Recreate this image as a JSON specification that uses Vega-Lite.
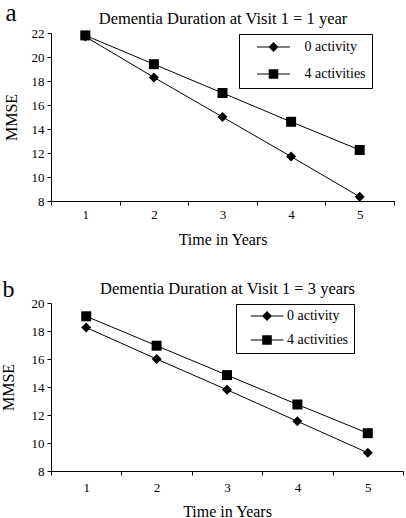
{
  "$schema": "https://vega.github.io/schema/vega-lite/v6.json",
  "padding": {"left": 0, "top": 0, "right": 0, "bottom": 0},
  "background": "white",
  "datasets": {
    "a": [
      {"time": 1, "series": "0 activity", "mmse": 21.7},
      {"time": 2, "series": "0 activity", "mmse": 18.3},
      {"time": 3, "series": "0 activity", "mmse": 15.0},
      {"time": 4, "series": "0 activity", "mmse": 11.7},
      {"time": 5, "series": "0 activity", "mmse": 8.35},
      {"time": 1, "series": "4 activities", "mmse": 21.8},
      {"time": 2, "series": "4 activities", "mmse": 19.4},
      {"time": 3, "series": "4 activities", "mmse": 17.0},
      {"time": 4, "series": "4 activities", "mmse": 14.6},
      {"time": 5, "series": "4 activities", "mmse": 12.25}
    ],
    "b": [
      {"time": 1, "series": "0 activity", "mmse": 18.25},
      {"time": 2, "series": "0 activity", "mmse": 16.0},
      {"time": 3, "series": "0 activity", "mmse": 13.8},
      {"time": 4, "series": "0 activity", "mmse": 11.55},
      {"time": 5, "series": "0 activity", "mmse": 9.3},
      {"time": 1, "series": "4 activities", "mmse": 19.05},
      {"time": 2, "series": "4 activities", "mmse": 16.95},
      {"time": 3, "series": "4 activities", "mmse": 14.85},
      {"time": 4, "series": "4 activities", "mmse": 12.75},
      {"time": 5, "series": "4 activities", "mmse": 10.7}
    ]
  },
  "spacing": 30,
  "vconcat": [
    {
      "width": 343,
      "height": 168,
      "data": {"name": "a"},
      "layer": [
        {
          "mark": {"type": "line", "color": "black", "strokeWidth": 1},
          "encoding": {
            "x": {"field": "time", "type": "quantitative", "scale": {"domain": [0.5, 5.5], "nice": false, "zero": false},
              "axis": {"orient": "bottom", "title": "Time in Years", "values": [0.5, 1, 1.5, 2, 2.5, 3, 3.5, 4, 4.5, 5, 5.5],
                "labelExpr": "datum.value % 1 === 0 ? '' + datum.value : ''",
                "tickOpacity": {"condition": {"test": "datum.value % 1 === 0", "value": 0}, "value": 1},
                "titlePadding": 10}},
            "y": {"field": "mmse", "type": "quantitative", "scale": {"domain": [8, 22], "nice": false, "zero": false},
              "axis": {"orient": "left", "title": "MMSE", "values": [8, 10, 12, 14, 16, 18, 20, 22], "titlePadding": 12}},
            "detail": {"field": "series", "type": "nominal"}
          }
        },
        {
          "mark": {"type": "point", "filled": true, "color": "black", "opacity": 1, "size": 100},
          "encoding": {
            "x": {"field": "time", "type": "quantitative",
              "axis": {"orient": "top", "title": "Dementia Duration at Visit 1 = 1 year", "titleFontSize": 16.5, "labels": false, "ticks": false, "domain": false, "titlePadding": 7}},
            "y": {"field": "mmse", "type": "quantitative",
              "axis": {"orient": "left", "title": "a", "labels": false, "ticks": false, "domain": false, "titleAngle": 0, "titleX": -46, "titleY": -13, "titleAlign": "left", "titleBaseline": "alphabetic", "titleFontSize": 25}},
            "shape": {"field": "series", "type": "nominal",
              "scale": {"domain": ["0 activity", "4 activities"], "range": ["diamond", "square"]}, "legend": null}
          }
        },
        {
          "transform": [{"filter": "false"}],
          "mark": {"type": "point", "filled": true, "color": "black", "opacity": 1},
          "encoding": {
            "shape": {"field": "series", "type": "nominal",
              "scale": {"domain": ["0 activity", "4 activities"], "range": ["M-2.75,-0.09H2.75V0.09H-2.75ZM0,-0.83L0.83,0L0,0.83L-0.83,0Z", "M-2.75,-0.09H2.75V0.09H-2.75ZM-0.8,-0.8H0.8V0.8H-0.8Z"]},
              "legend": {"orient": "none", "legendX": 188, "legendY": 1, "title": null, "strokeColor": "black", "fillColor": "white", "padding": 6,
                "labelFont": "Liberation Serif", "labelFontSize": 14, "labelColor": "black",
                "symbolSize": 144, "symbolOffset": 21.5, "labelOffset": 24, "rowPadding": 11,
                "symbolFillColor": "black"}}
          }
        }
      ],
      "resolve": {"axis": {"x": "independent", "y": "independent"}, "scale": {"shape": "independent"}}
    },
    {
      "width": 352,
      "height": 168,
      "data": {"name": "b"},
      "layer": [
        {
          "mark": {"type": "line", "color": "black", "strokeWidth": 1},
          "encoding": {
            "x": {"field": "time", "type": "quantitative", "scale": {"domain": [0.5, 5.5], "nice": false, "zero": false},
              "axis": {"orient": "bottom", "title": "Time in Years", "values": [0.5, 1, 1.5, 2, 2.5, 3, 3.5, 4, 4.5, 5, 5.5],
                "labelExpr": "datum.value % 1 === 0 ? '' + datum.value : ''",
                "tickOpacity": {"condition": {"test": "datum.value % 1 === 0", "value": 0}, "value": 1},
                "labelPadding": 6, "titlePadding": 9}},
            "y": {"field": "mmse", "type": "quantitative", "scale": {"domain": [8, 20], "nice": false, "zero": false},
              "axis": {"orient": "left", "title": "MMSE", "values": [8, 10, 12, 14, 16, 18, 20], "titlePadding": 15}},
            "detail": {"field": "series", "type": "nominal"}
          }
        },
        {
          "mark": {"type": "point", "filled": true, "color": "black", "opacity": 1, "size": 100},
          "encoding": {
            "x": {"field": "time", "type": "quantitative",
              "axis": {"orient": "top", "title": "Dementia Duration at Visit 1 = 3 years", "titleFontSize": 16.5, "labels": false, "ticks": false, "domain": false, "titlePadding": 7}},
            "y": {"field": "mmse", "type": "quantitative",
              "axis": {"orient": "left", "title": "b", "labels": false, "ticks": false, "domain": false, "titleAngle": 0, "titleX": -49, "titleY": -7, "titleAlign": "left", "titleBaseline": "alphabetic", "titleFontSize": 24}},
            "shape": {"field": "series", "type": "nominal",
              "scale": {"domain": ["0 activity", "4 activities"], "range": ["diamond", "square"]}, "legend": null}
          }
        },
        {
          "transform": [{"filter": "false"}],
          "mark": {"type": "point", "filled": true, "color": "black", "opacity": 1},
          "encoding": {
            "shape": {"field": "series", "type": "nominal",
              "scale": {"domain": ["0 activity", "4 activities"], "range": ["M-2.75,-0.09H2.75V0.09H-2.75ZM0,-0.83L0.83,0L0,0.83L-0.83,0Z", "M-2.75,-0.09H2.75V0.09H-2.75ZM-0.8,-0.8H0.8V0.8H-0.8Z"]},
              "legend": {"orient": "none", "legendX": 185, "legendY": 1, "title": null, "strokeColor": "black", "fillColor": "white", "padding": 5,
                "labelFont": "Liberation Serif", "labelFontSize": 14, "labelColor": "black",
                "symbolSize": 144, "symbolOffset": 19, "labelOffset": 13, "rowPadding": 8,
                "symbolFillColor": "black"}}
          }
        }
      ],
      "resolve": {"axis": {"x": "independent", "y": "independent"}, "scale": {"shape": "independent"}}
    }
  ],
  "config": {
    "view": {"stroke": null},
    "font": "Liberation Serif",
    "axis": {"grid": false, "domainColor": "black", "tickColor": "black", "labelColor": "black", "titleColor": "black",
      "labelFont": "Liberation Serif", "titleFont": "Liberation Serif", "labelFontSize": 13, "titleFontSize": 16, "titleFontWeight": "normal",
      "tickSize": 4, "labelPadding": 3, "domainWidth": 1, "tickWidth": 1},
    "legend": {"labelFont": "Liberation Serif", "labelFontSize": 14, "labelColor": "black"}
  }
}
